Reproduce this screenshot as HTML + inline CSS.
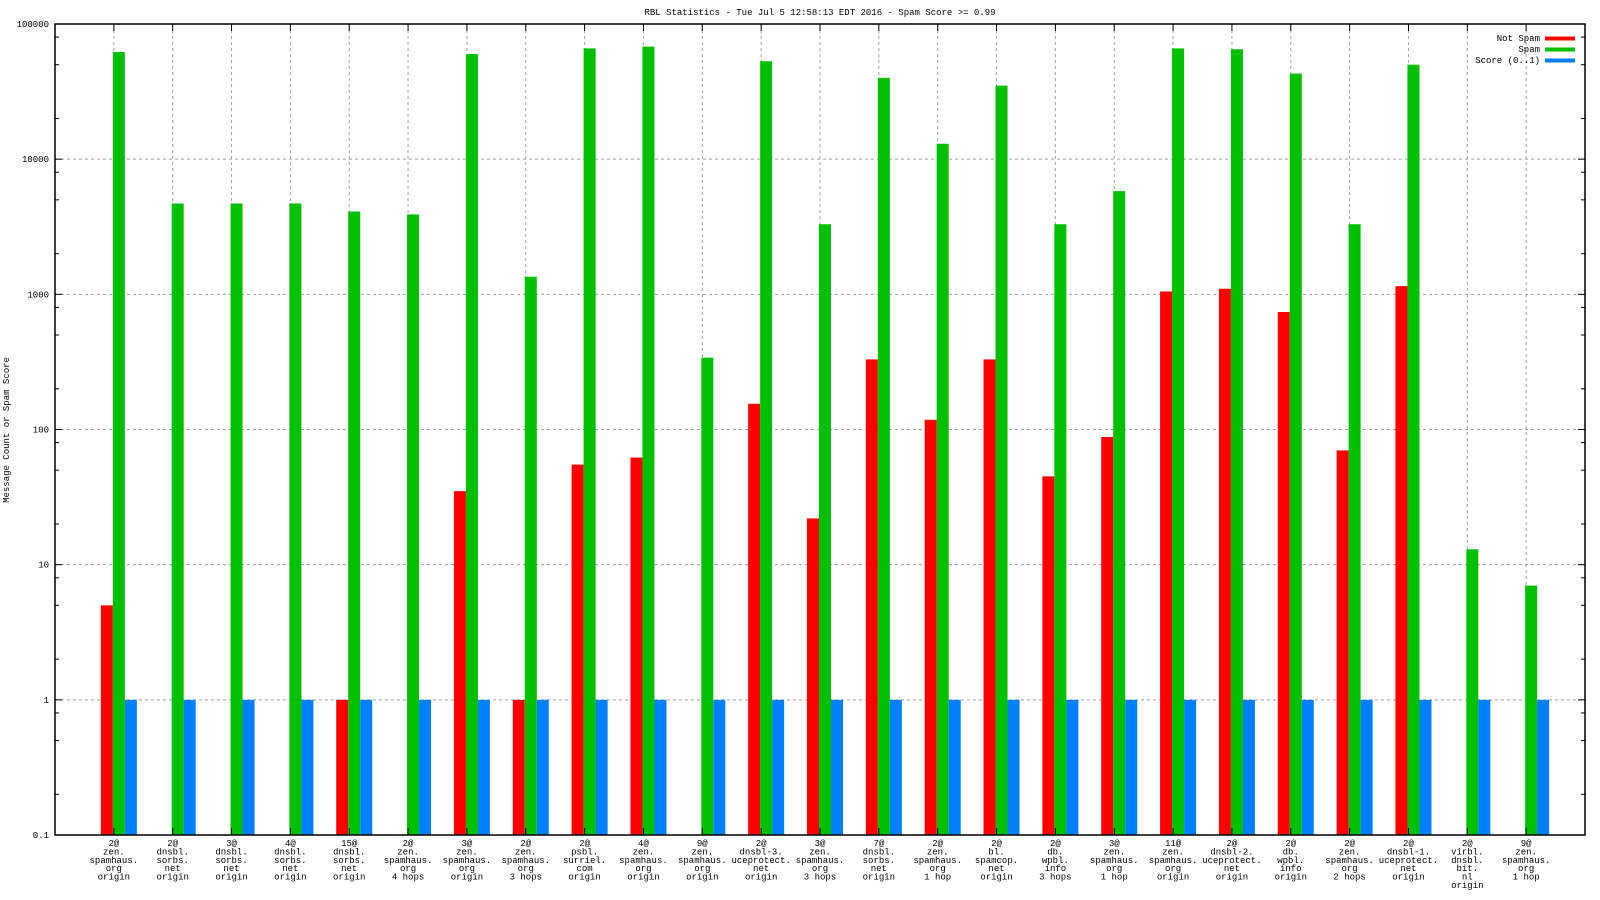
<!DOCTYPE html>
<html><head><meta charset="utf-8"><style>
html,body{margin:0;padding:0;background:#fff;}
svg{display:block;font-family:"Liberation Mono","DejaVu Sans Mono",monospace;}
</style></head><body>
<svg id="chart" width="1600" height="900" xmlns="http://www.w3.org/2000/svg">
<rect width="1600" height="900" fill="#fff"/>
<text x="820" y="15" font-size="9" text-anchor="middle">RBL Statistics - Tue Jul  5 12:58:13 EDT 2016 - Spam Score &gt;= 0.99</text>
<text transform="translate(9,430) rotate(-90)" font-size="9" text-anchor="middle">Message Count or Spam Score</text>
<g id="grid"></g><g id="bars"></g><g id="axes"></g><g id="labels"></g>
<g>
<text x="1540" y="41" font-size="9" text-anchor="end">Not Spam</text>
<rect x="1545" y="36.5" width="30" height="4" fill="#ff0000"/>
<text x="1540" y="52" font-size="9" text-anchor="end">Spam</text>
<rect x="1545" y="47.5" width="30" height="4" fill="#00c000"/>
<text x="1540" y="63" font-size="9" text-anchor="end">Score (0..1)</text>
<rect x="1545" y="58.5" width="30" height="4" fill="#0080ff"/>
</g>
</svg>
<script>
const categories = [
 ["2@","zen.","spamhaus.","org","origin"],
 ["2@","dnsbl.","sorbs.","net","origin"],
 ["3@","dnsbl.","sorbs.","net","origin"],
 ["4@","dnsbl.","sorbs.","net","origin"],
 ["15@","dnsbl.","sorbs.","net","origin"],
 ["2@","zen.","spamhaus.","org","4 hops"],
 ["3@","zen.","spamhaus.","org","origin"],
 ["2@","zen.","spamhaus.","org","3 hops"],
 ["2@","psbl.","surriel.","com","origin"],
 ["4@","zen.","spamhaus.","org","origin"],
 ["9@","zen.","spamhaus.","org","origin"],
 ["2@","dnsbl-3.","uceprotect.","net","origin"],
 ["3@","zen.","spamhaus.","org","3 hops"],
 ["7@","dnsbl.","sorbs.","net","origin"],
 ["2@","zen.","spamhaus.","org","1 hop"],
 ["2@","bl.","spamcop.","net","origin"],
 ["2@","db.","wpbl.","info","3 hops"],
 ["3@","zen.","spamhaus.","org","1 hop"],
 ["11@","zen.","spamhaus.","org","origin"],
 ["2@","dnsbl-2.","uceprotect.","net","origin"],
 ["2@","db.","wpbl.","info","origin"],
 ["2@","zen.","spamhaus.","org","2 hops"],
 ["2@","dnsbl-1.","uceprotect.","net","origin"],
 ["2@","virbl.","dnsbl.","bit.","nl","origin"],
 ["9@","zen.","spamhaus.","org","1 hop"]
];
const notSpam = [5,0,0,0,1,0,35,1,55,62,0,155,22,330,118,330,45,88,1050,1100,740,70,1150,0,0];
const spam = [62000,4700,4700,4700,4100,3900,60000,1350,66000,68000,340,53000,3300,40000,13000,35000,3300,5800,66000,65000,43000,3300,50000,13,7];
const score = [1,1,1,1,1,1,1,1,1,1,1,1,1,1,1,1,1,1,1,1,1,1,1,1,1];
const yTicks = ["0.1","1","10","100","1000","10000","100000"];

const NS="http://www.w3.org/2000/svg";
const L=55,R=1585,T=24,B=835;
const xScale=i=>L+(i+1)*(R-L)/26;
const yScale=v=>B-(Math.log10(v)+1)*(B-T)/6;
function mk(tag,attrs,parent){const e=document.createElementNS(NS,tag);for(const k in attrs)e.setAttribute(k,attrs[k]);parent.appendChild(e);return e;}
const grid=document.getElementById('grid'),bars=document.getElementById('bars'),axes=document.getElementById('axes'),labels=document.getElementById('labels');

yTicks.forEach((t,k)=>{
  const v=parseFloat(t),y=yScale(v);
  if(k>0&&k<yTicks.length-1){const g=mk('line',{x1:L,x2:R,y1:y,y2:y,stroke:'#a0a0a0','stroke-dasharray':'3,3','stroke-width':1},grid);
  
  }
  const tx=mk('text',{x:L-6,y:y+3,'font-size':9,'text-anchor':'end'},labels);tx.textContent=t;
  
  
  mk('line',{x1:L,x2:L+7,y1:y,y2:y,stroke:'#000'},axes);
  mk('line',{x1:R,x2:R-7,y1:y,y2:y,stroke:'#000'},axes);
  if(k<yTicks.length-1){[2,5,8].forEach(m=>{const ym=yScale(v*m);
    mk('line',{x1:L,x2:L+4,y1:ym,y2:ym,stroke:'#000'},axes);
    mk('line',{x1:R,x2:R-4,y1:ym,y2:ym,stroke:'#000'},axes);});}
});

categories.forEach((c,i)=>{
  const x=xScale(i);
  const g=mk('line',{x1:x,x2:x,y1:T,y2:B,stroke:'#a0a0a0','stroke-dasharray':'3,3','stroke-width':1},grid);
  
  
  mk('line',{x1:x,x2:x,y1:T,y2:T+7,stroke:'#000'},axes);
  mk('line',{x1:x,x2:x,y1:B,y2:B-7,stroke:'#000'},axes);
  const series=[[notSpam[i],'#ff0000','bar-not-spam',-13],[spam[i],'#00c000','bar-spam',-1],[score[i],'#0080ff','bar-score',11]];
  series.forEach(s=>{ if(s[0]>0.1){const y=yScale(s[0]);
    const r=mk('rect',{x:x+s[3],y:y,width:12,height:B-y,fill:s[1]},bars);
    
    }});
  const t=mk('text',{x:x,y:846,'font-size':9,'text-anchor':'middle'},labels);
  
  
  c.forEach((ln,j)=>{const ts=mk('tspan',{x:x,dy:j?8.4:0},t);ts.textContent=ln;});
});
const fr=mk('rect',{x:L,y:T,width:R-L,height:B-T,fill:'none',stroke:'#000','stroke-width':1.5},axes);


</script>
</body></html>
